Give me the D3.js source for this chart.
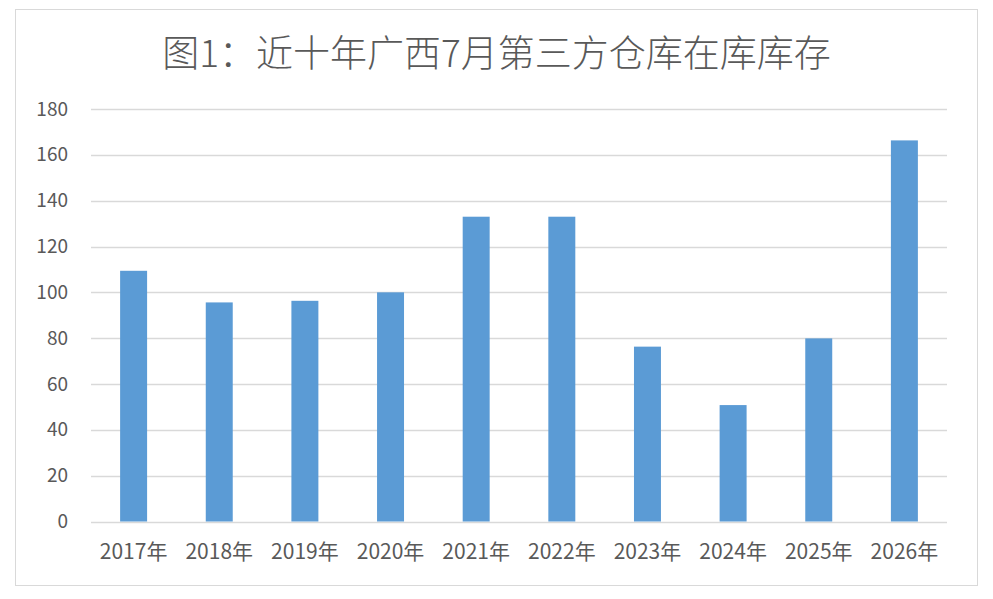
<!DOCTYPE html>
<html>
<head>
<meta charset="utf-8">
<script src="https://cdn.jsdelivr.net/npm/d3@7"></script>
<style>
  html, body { margin: 0; padding: 0; background: #fff; }
  svg { display: block; }
</style>
</head>
<body>
<div id="chart"></div>
<script>
'use strict';

var title = '图1：近十年广西7月第三方仓库在库库存';
var years = ['2017年', '2018年', '2019年', '2020年', '2021年',
             '2022年', '2023年', '2024年', '2025年', '2026年'];
var stock = [109.4, 95.6, 96.3, 100, 133, 133, 76.3, 50.8, 79.9, 166.3];
var yTicks = [0, 20, 40, 60, 80, 100, 120, 140, 160, 180];

var width = 993, height = 599;
var margin = { top: 109, right: 46, bottom: 78, left: 91 };
var font = '"Noto Sans CJK SC", "Noto Sans", sans-serif';
var textColor = '#595959';

var svg = d3.select('#chart')
  .append('svg')
  .attr('width', width)
  .attr('height', height);

// chart frame
svg.append('rect')
  .attr('x', 15.5)
  .attr('y', 9.5)
  .attr('width', 962)
  .attr('height', 576)
  .attr('fill', '#fff')
  .attr('stroke', '#d9d9d9')
  .attr('stroke-width', 1);

svg.append('text')
  .attr('x', 496.5)
  .attr('y', 67)
  .attr('text-anchor', 'middle')
  .attr('fill', textColor)
  .style('font-family', font)
  .style('font-weight', 300)
  .style('font-size', '37px')
  .text(title);

var x = d3.scaleBand()
  .domain(years)
  .range([margin.left, width - margin.right])
  .paddingInner(0.685)
  .paddingOuter(0.34);

var y = d3.scaleLinear()
  .domain([0, 180])
  .range([height - margin.bottom + 0.5, margin.top]);

// gridlines
svg.append('g')
  .selectAll('line')
  .data(yTicks)
  .join('line')
  .attr('x1', margin.left)
  .attr('x2', width - margin.right)
  .attr('y1', function (d) { return Math.round(y(d)) + 0.5; })
  .attr('y2', function (d) { return Math.round(y(d)) + 0.5; })
  .attr('stroke', '#d9d9d9')
  .attr('stroke-width', 1.3);

// y axis labels
var yAxis = svg.append('g')
  .attr('transform', 'translate(' + (margin.left - 23) + ',0)')
  .call(d3.axisLeft(y).tickValues(yTicks).tickSize(0).tickPadding(0));
yAxis.select('.domain').remove();
yAxis.selectAll('text')
  .attr('fill', textColor)
  .style('font-family', font)
  .style('font-size', '19px');

// bars
svg.append('g')
  .selectAll('rect')
  .data(stock)
  .join('rect')
  .attr('x', function (d, i) { return x(years[i]); })
  .attr('y', function (d) { return y(d); })
  .attr('width', x.bandwidth())
  .attr('height', function (d) { return y(0) - y(d); })
  .attr('fill', '#5b9bd5');

// x axis labels
var xAxis = svg.append('g')
  .attr('transform', 'translate(0,' + (height - margin.bottom + 23) + ')')
  .call(d3.axisBottom(x).tickSize(0).tickPadding(0));
xAxis.select('.domain').remove();
xAxis.selectAll('text')
  .attr('fill', textColor)
  .style('font-family', font)
  .style('font-size', '21px');
</script>
</body>
</html>
